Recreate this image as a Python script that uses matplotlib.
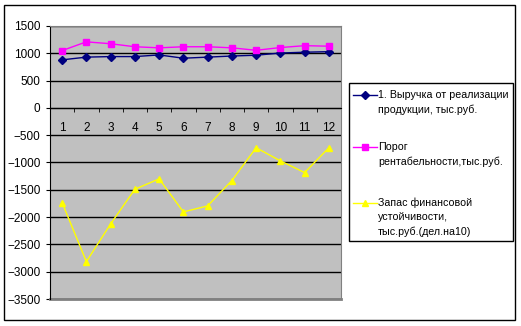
import matplotlib
matplotlib.use("Agg")
import matplotlib.pyplot as plt
from matplotlib.lines import Line2D
from matplotlib.patches import Rectangle
from matplotlib.ticker import MultipleLocator, FixedLocator

plt.rcParams['font.family'] = ['Liberation Sans', 'DejaVu Sans']

months = list(range(1, 13))
revenue = [880, 930, 940, 940, 970, 910, 930, 950, 965, 1005, 1020, 1030]
breakeven = [1050, 1210, 1175, 1120, 1100, 1120, 1120, 1100, 1055, 1105, 1140, 1130]
safety = [-1735, -2815, -2125, -1490, -1300, -1905, -1795, -1330, -730, -970, -1185, -730]
labels = ["1. Выручка от реализации\nпродукции, тыс.руб.",
          "Порог\nрентабельности,тыс.руб.",
          "Запас финансовой\nустойчивости,\nтыс.руб.(дел.на10)"]
colors = ["#000080", "#FF00FF", "#FFFF00"]
markers = ["D", "s", "^"]
msizes = [4, 5, 5]

W, H = 521, 326
fig = plt.figure(figsize=(W / 100, H / 100), dpi=100)

def fx(px):
    return px / W

def fy(py):
    return 1 - py / H

# outer chart border
fig.patches.append(Rectangle((fx(4), fy(320)), fx(511), 315 / H, transform=fig.transFigure,
                             fill=False, edgecolor="black", linewidth=1))

ax = fig.add_axes([fx(50), fy(299), fx(291), (299 - 26) / H])
ax.set_facecolor("#C0C0C0")

for vals, c, m, ms in zip([revenue, breakeven, safety], colors, markers, msizes):
    ax.plot(months, vals, color=c, marker=m, markersize=ms, linewidth=1, markeredgecolor=c)

ax.set_xlim(0.5, 12.5)
ax.set_ylim(-3500, 1500)
ax.yaxis.set_major_locator(MultipleLocator(500))
ax.grid(axis="y", color="black", linewidth=1)
ax.set_axisbelow(True)

ax.spines["top"].set_color("#808080")
ax.spines["right"].set_color("#808080")
ax.spines["left"].set_color("black")
ax.spines["bottom"].set_position(("data", 0))
ax.spines["bottom"].set_color("black")
ax.axhline(-3500, color="#808080", linewidth=2, clip_on=False)

ax.set_xticks(months)
ax.set_xticklabels([str(m) for m in months])
ax.xaxis.set_minor_locator(FixedLocator([m + 0.5 for m in months[:-1]]))
ax.tick_params(axis="x", which="major", length=0, pad=10, labelsize=8.5)
ax.tick_params(axis="x", which="minor", length=2.9, direction="out", color="black")
ax.tick_params(axis="y", length=2.9, direction="out", color="black", labelsize=8.5, pad=4)

# legend box
fig.patches.append(Rectangle((fx(349), fy(241)), fx(164), (241 - 83) / H, transform=fig.transFigure,
                             fill=False, edgecolor="black", linewidth=1))
entry_y = [95, 147, 203]
line_h = 14.5
for lab, c, m, ms, y0 in zip(labels, colors, markers, msizes, entry_y):
    fig.add_artist(Line2D([fx(353), fx(377)], [fy(y0), fy(y0)], transform=fig.transFigure,
                          color=c, linewidth=1))
    fig.add_artist(Line2D([fx(365)], [fy(y0)], transform=fig.transFigure, color=c,
                          marker=m, markersize=ms, markeredgecolor=c, linestyle="none"))
    for i, part in enumerate(lab.split("\n")):
        fig.text(fx(378), fy(y0 + i * line_h), part, fontsize=7.7, va="center", ha="left")

fig.savefig("out.png", dpi=100)
